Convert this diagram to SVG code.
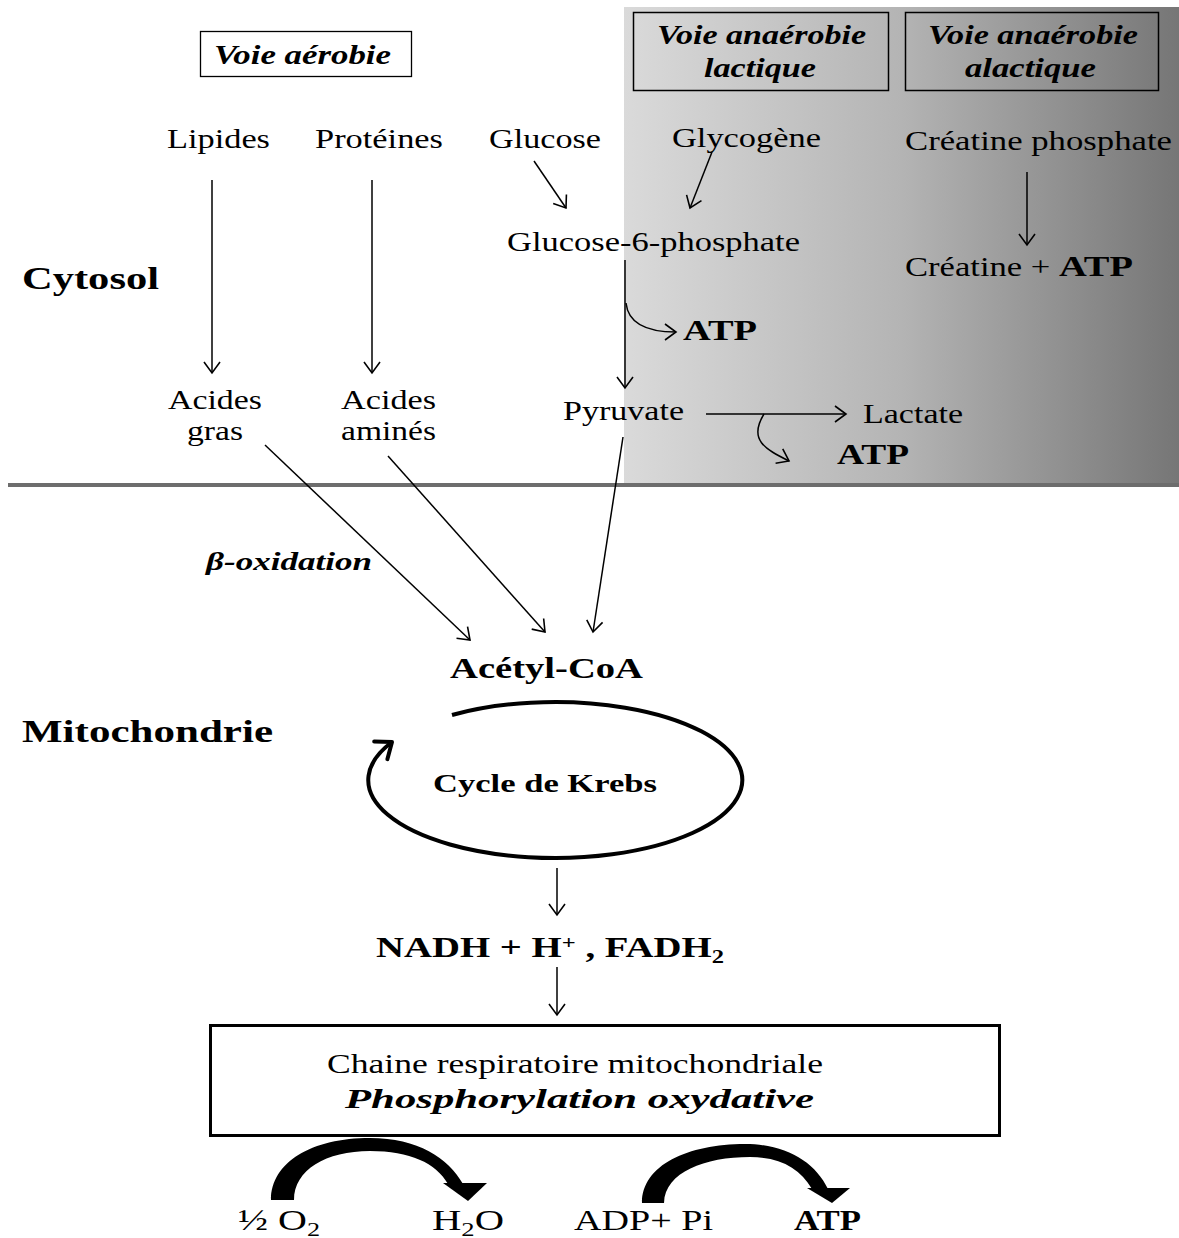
<svg xmlns="http://www.w3.org/2000/svg" width="1179" height="1238" viewBox="0 0 1179 1238">
<defs>
<linearGradient id="pg" x1="0" y1="0" x2="1" y2="0">
<stop offset="0" stop-color="#dadada"/>
<stop offset="0.5" stop-color="#b4b4b4"/>
<stop offset="1" stop-color="#767676"/>
</linearGradient>
<marker id="ah" markerUnits="userSpaceOnUse" viewBox="-14 -10 16 20" markerWidth="16" markerHeight="20" refX="0" refY="0" orient="auto">
<path d="M-11,-8 L0,0 L-11,8" fill="none" stroke="#000" stroke-width="1.6"/>
</marker>
<marker id="kh" markerUnits="userSpaceOnUse" viewBox="-18 -14 22 28" markerWidth="22" markerHeight="28" refX="0" refY="0" orient="auto">
<path d="M-14,-11 L0,0 L-14,11" fill="none" stroke="#000" stroke-width="4" stroke-linecap="round" stroke-linejoin="round"/>
</marker>
<style>
text{font-family:"Liberation Serif","Times New Roman",serif;fill:#000}
.r{font-size:27px}
.b{font-weight:bold}
.bi{font-weight:bold;font-style:italic}
.t{font-size:28px}
.big{font-size:32px;font-weight:bold}
.ln{fill:none;stroke:#000;stroke-width:1.5;marker-end:url(#ah)}
.box{fill:none;stroke:#000}
</style>
</defs>
<rect id="panel" x="624" y="7" width="555" height="477" fill="url(#pg)"/>
<line id="separator" x1="8" y1="485" x2="1179" y2="485" stroke="#6d6d6d" stroke-width="4"/>

<g id="voie-aerobie">
<rect class="box" x="200.5" y="31.5" width="211" height="45" stroke-width="1.3"/>
<text class="bi t" x="214" y="64" textLength="177" lengthAdjust="spacingAndGlyphs">Voie aérobie</text>
</g>
<g id="voie-lactique">
<rect class="box" x="633.5" y="12.5" width="255" height="78" stroke="#333" stroke-width="1.5"/>
<text class="bi t" x="657" y="44" textLength="209" lengthAdjust="spacingAndGlyphs">Voie anaérobie</text>
<text class="bi t" x="704" y="77" textLength="112" lengthAdjust="spacingAndGlyphs">lactique</text>
</g>
<g id="voie-alactique">
<rect class="box" x="905.5" y="12.5" width="253" height="78" stroke="#333" stroke-width="1.5"/>
<text class="bi t" x="928" y="44" textLength="210" lengthAdjust="spacingAndGlyphs">Voie anaérobie</text>
<text class="bi t" x="965" y="77" textLength="131" lengthAdjust="spacingAndGlyphs">alactique</text>
</g>

<g id="cytosol"><text class="big" x="22" y="289" textLength="137" lengthAdjust="spacingAndGlyphs">Cytosol</text></g>
<g id="mitochondrie"><text class="big" x="22" y="742" textLength="251" lengthAdjust="spacingAndGlyphs">Mitochondrie</text></g>

<g id="lipides"><text class="r" x="167" y="148" textLength="103" lengthAdjust="spacingAndGlyphs">Lipides</text></g>
<g id="proteines"><text class="r" x="315" y="148" textLength="128" lengthAdjust="spacingAndGlyphs">Protéines</text></g>
<g id="glucose"><text class="r" x="489" y="148" textLength="112" lengthAdjust="spacingAndGlyphs">Glucose</text></g>
<g id="glycogene"><text class="r" x="672" y="147" textLength="149" lengthAdjust="spacingAndGlyphs">Glycogène</text></g>
<g id="creatine-phosphate"><text class="r" x="905" y="150" textLength="267" lengthAdjust="spacingAndGlyphs">Créatine phosphate</text></g>
<g id="g6p"><text class="r" x="507" y="251" textLength="293" lengthAdjust="spacingAndGlyphs">Glucose-6-phosphate</text></g>
<g id="creatine-atp"><text class="r" x="905" y="276" textLength="228" lengthAdjust="spacingAndGlyphs">Créatine + <tspan class="b" font-size="30">ATP</tspan></text></g>
<g id="atp-glycolyse"><text class="b" font-size="30" x="683" y="340" textLength="74" lengthAdjust="spacingAndGlyphs">ATP</text></g>
<g id="pyruvate"><text class="r" x="563" y="420" textLength="121" lengthAdjust="spacingAndGlyphs">Pyruvate</text></g>
<g id="lactate"><text class="r" x="863" y="423" textLength="100" lengthAdjust="spacingAndGlyphs">Lactate</text></g>
<g id="atp-lactate"><text class="b" font-size="30" x="837" y="464" textLength="72" lengthAdjust="spacingAndGlyphs">ATP</text></g>
<g id="acides-gras">
<text class="r" x="168" y="409" textLength="94" lengthAdjust="spacingAndGlyphs">Acides</text>
<text class="r" x="187" y="440" textLength="56" lengthAdjust="spacingAndGlyphs">gras</text>
</g>
<g id="acides-amines">
<text class="r" x="341" y="409" textLength="95" lengthAdjust="spacingAndGlyphs">Acides</text>
<text class="r" x="341" y="440" textLength="95" lengthAdjust="spacingAndGlyphs">aminés</text>
</g>
<g id="beta-oxidation"><text class="bi" font-size="25" x="206" y="570" textLength="166" lengthAdjust="spacingAndGlyphs">β-oxidation</text></g>
<g id="acetyl-coa"><text class="b" font-size="30" x="450" y="678" textLength="193" lengthAdjust="spacingAndGlyphs">Acétyl-CoA</text></g>
<g id="krebs">
<path d="M452,715 A187,78 0 1 1 392,742" fill="none" stroke="#000" stroke-width="4" marker-end="url(#kh)"/>
<text class="b" font-size="26" x="433" y="792" textLength="224" lengthAdjust="spacingAndGlyphs">Cycle de Krebs</text>
</g>
<g id="nadh"><text class="b" font-size="30" x="376" y="957" textLength="348" lengthAdjust="spacingAndGlyphs">NADH + H<tspan font-size="19" dy="-8">+</tspan><tspan dy="8"> , FADH</tspan><tspan font-size="19" dy="6">2</tspan></text></g>
<g id="chaine">
<rect class="box" x="210.5" y="1025.5" width="789" height="110" stroke-width="3"/>
<text font-size="28" x="327" y="1073" textLength="496" lengthAdjust="spacingAndGlyphs">Chaine respiratoire mitochondriale</text>
<text class="bi" font-size="28" x="345" y="1108" textLength="469" lengthAdjust="spacingAndGlyphs">Phosphorylation oxydative</text>
</g>
<g id="o2"><text font-size="29" x="238" y="1230" textLength="82" lengthAdjust="spacingAndGlyphs">½ O<tspan font-size="19" dy="6">2</tspan></text></g>
<g id="h2o"><text font-size="29" x="432" y="1230" textLength="72" lengthAdjust="spacingAndGlyphs">H<tspan font-size="19" dy="6">2</tspan><tspan dy="-6">O</tspan></text></g>
<g id="adp"><text font-size="29" x="574" y="1230" textLength="139" lengthAdjust="spacingAndGlyphs">ADP+ Pi</text></g>
<g id="atp-final"><text class="b" font-size="29" x="794" y="1230" textLength="67" lengthAdjust="spacingAndGlyphs">ATP</text></g>

<g id="connectors">
<line class="ln" x1="212" y1="180" x2="212" y2="373"/>
<line class="ln" x1="372" y1="180" x2="372" y2="373"/>
<line class="ln" x1="534" y1="161" x2="566" y2="208"/>
<line class="ln" x1="712" y1="152" x2="690" y2="208"/>
<line class="ln" x1="625" y1="260" x2="625" y2="388"/>
<path class="ln" d="M626,303 C628,322 645,332 676,332"/>
<line class="ln" x1="1027" y1="172" x2="1027" y2="245"/>
<line class="ln" x1="706" y1="414" x2="846" y2="414"/>
<path class="ln" d="M764,414 C748,440 765,449 789,461"/>
<line class="ln" x1="265" y1="445" x2="470" y2="640"/>
<line class="ln" x1="388" y1="456" x2="545" y2="632"/>
<line class="ln" x1="623" y1="437" x2="593" y2="632"/>
<line class="ln" x1="557" y1="868" x2="557" y2="915"/>
<line class="ln" x1="557" y1="967" x2="557" y2="1015"/>
<path d="M271,1200 C271,1162 312,1138 370,1138 C418,1138 448,1158 463,1184 L448,1184 C436,1163 410,1151 370,1151 C326,1151 294,1170 294,1200 Z" fill="#000"/>
<path d="M443,1183 L487,1183 L468,1201 Z" fill="#000"/>
<path d="M642,1203 C642,1165 688,1144 745,1144 C786,1144 815,1162 828,1189 L812,1189 C800,1168 780,1157 750,1157 C705,1157 665,1172 664,1203 Z" fill="#000"/>
<path d="M807,1188 L850,1188 L832,1203 Z" fill="#000"/>
</g>
</svg>
